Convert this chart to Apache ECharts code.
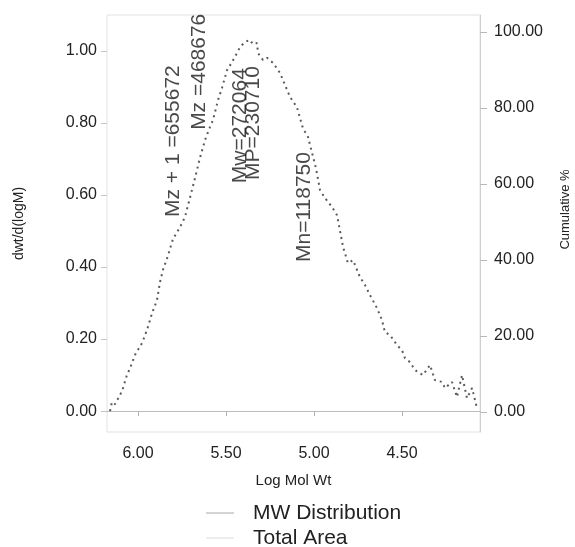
<!DOCTYPE html>
<html>
<head>
<meta charset="utf-8">
<script src="https://cdn.jsdelivr.net/npm/echarts@6/dist/echarts.min.js"></script>
<style>
  html, body { margin: 0; padding: 0; background: #fff; }
  #chart { width: 575px; height: 547px; }
</style>
</head>
<body>
<div id="chart"></div>
<script>
// GPC molecular weight distribution: dw/d(logM) against log molecular weight
const logMW = [6.159, 6.148, 6.131, 6.102, 6.085, 6.063, 6.045, 6.017, 5.977, 5.949,
  5.920, 5.892, 5.875, 5.858, 5.830, 5.801, 5.761, 5.733, 5.705, 5.676,
  5.648, 5.619, 5.591, 5.574, 5.545, 5.523, 5.494, 5.466, 5.438, 5.420,
  5.392, 5.364, 5.347, 5.324, 5.318, 5.290, 5.267, 5.233, 5.193, 5.165,
  5.136, 5.097, 5.063, 5.034, 5.011, 4.989, 4.966, 4.938, 4.898, 4.869,
  4.835, 4.807, 4.778, 4.739, 4.710, 4.682, 4.642, 4.614, 4.597, 4.568,
  4.528, 4.500, 4.483, 4.455, 4.426, 4.409, 4.381, 4.341, 4.313, 4.273,
  4.256, 4.216, 4.188, 4.159, 4.131, 4.102, 4.074];

const dwdlogM = [0.000, 0.025, 0.019, 0.044, 0.064, 0.100, 0.119, 0.156, 0.189, 0.225,
  0.272, 0.308, 0.358, 0.392, 0.431, 0.478, 0.511, 0.539, 0.592, 0.647,
  0.703, 0.753, 0.789, 0.808, 0.864, 0.897, 0.947, 0.969, 0.994, 1.011,
  1.025, 1.031, 1.019, 1.022, 0.994, 0.975, 0.981, 0.967, 0.939, 0.906,
  0.872, 0.844, 0.786, 0.761, 0.717, 0.675, 0.614, 0.592, 0.567, 0.544,
  0.456, 0.411, 0.419, 0.372, 0.350, 0.322, 0.286, 0.253, 0.219, 0.211,
  0.183, 0.169, 0.147, 0.136, 0.114, 0.108, 0.100, 0.128, 0.086, 0.081,
  0.064, 0.081, 0.039, 0.100, 0.036, 0.064, 0.008];

// Cumulative area curve (no samples recorded in this run)
const totalArea = [];

// Molecular weight averages, marked at log10 of their value
const averageNames = ['Mz + 1 ', 'Mz ', 'Mw', 'MP', 'Mn'];
const averageValues = [655672, 468676, 272064, 230710, 118750];
const averageLabelBase = [0.539, 0.781, 0.633, 0.642, 0.414];

const FONT = '"Liberation Sans", Arial, sans-serif';

const distData = logMW.map((x, i) => [x, dwdlogM[i]]);
const averageData = averageValues.map((v, i) => ({
  value: [Math.log10(v), averageLabelBase[i]],
  label: { formatter: averageNames[i] + '=' + v }
}));

const chart = echarts.init(document.getElementById('chart'), null, { renderer: 'canvas' });

chart.setOption({
  animation: false,
  backgroundColor: '#ffffff',
  grid: {
    left: 107, right: 95, top: 15, bottom: 115,
    outerBoundsMode: 'none',
    containLabel: false,
    show: true, borderColor: '#e2e2e2', borderWidth: 1, backgroundColor: 'transparent'
  },
  legend: {
    orient: 'vertical',
    left: 201,
    top: 497,
    height: 60,
    itemWidth: 28,
    itemHeight: 2,
    itemGap: 3,
    icon: 'rect',
    textStyle: { fontFamily: FONT, fontSize: 21, color: '#222', lineHeight: 22, padding: [0, 0, 0, 14] },
    data: [
      { name: 'MW Distribution', itemStyle: { color: '#d4d4d4' } },
      { name: 'Total Area', itemStyle: { color: '#ececec' } }
    ]
  },
  xAxis: {
    type: 'value',
    inverse: true,
    min: 4.057,
    max: 6.176,
    splitNumber: 5,
    name: 'Log Mol Wt',
    nameLocation: 'middle',
    nameGap: 41,
    nameTextStyle: { fontFamily: FONT, fontSize: 15, color: '#222' },
    axisLine: { show: true, lineStyle: { color: '#bdbdbd', width: 1 } },
    axisTick: { show: true, length: 5, lineStyle: { color: '#b0b0b0' } },
    axisLabel: {
      showMinLabel: false, showMaxLabel: false, margin: 14,
      fontFamily: FONT, fontSize: 16, color: '#222',
      formatter: v => v.toFixed(2)
    },
    splitLine: { show: false }
  },
  yAxis: [
    {
      type: 'value',
      min: -0.058,
      max: 1.10,
      splitNumber: 6,
      position: 'left',
      name: 'dwt/d(logM)',
      nameLocation: 'middle',
      nameGap: 81,
      nameTextStyle: { fontFamily: FONT, fontSize: 14, color: '#222' },
      axisLine: { show: false },
      axisTick: { show: true, length: 6, lineStyle: { color: '#c4c4c4' } },
      axisLabel: {
        showMinLabel: false, showMaxLabel: false, margin: 10,
        fontFamily: FONT, fontSize: 16, color: '#222',
        formatter: v => v.toFixed(2)
      },
      splitLine: { show: false }
    },
    {
      type: 'value',
      min: -5.3,
      max: 104.5,
      splitNumber: 5,
      position: 'right',
      name: 'Cumulative %',
      nameLocation: 'middle',
      nameGap: 79,
      nameTextStyle: { fontFamily: FONT, fontSize: 13, color: '#222', padding: [0, 0, 0, 28] },
      axisLine: { show: true, lineStyle: { color: '#cfcfcf' } },
      axisTick: { show: true, length: 7, lineStyle: { color: '#b8b8b8' } },
      axisLabel: {
        showMinLabel: false, showMaxLabel: false, margin: 14,
        fontFamily: FONT, fontSize: 16, color: '#222',
        formatter: v => v.toFixed(2)
      },
      splitLine: { show: false }
    }
  ],
  series: [
    {
      name: 'MW Distribution',
      type: 'line',
      xAxisIndex: 0,
      yAxisIndex: 0,
      data: distData,
      showSymbol: false,
      smooth: false,
      lineStyle: { color: '#5a5a5a', width: 2, type: [2, 4] },
      itemStyle: { color: '#5a5a5a' },
      silent: true
    },
    {
      name: 'Total Area',
      type: 'line',
      xAxisIndex: 0,
      yAxisIndex: 1,
      data: totalArea,
      showSymbol: false,
      lineStyle: { color: '#ececec', width: 1 },
      itemStyle: { color: '#ececec' },
      silent: true
    },
    {
      name: 'averages',
      type: 'scatter',
      xAxisIndex: 0,
      yAxisIndex: 0,
      data: averageData,
      symbolSize: 0,
      silent: true,
      label: {
        show: true,
        position: [3, 0],
        rotate: 90,
        align: 'left',
        verticalAlign: 'middle',
        fontFamily: FONT,
        fontSize: 21,
        color: '#1a1a1a'
      }
    }
  ]
});
</script>
</body>
</html>
